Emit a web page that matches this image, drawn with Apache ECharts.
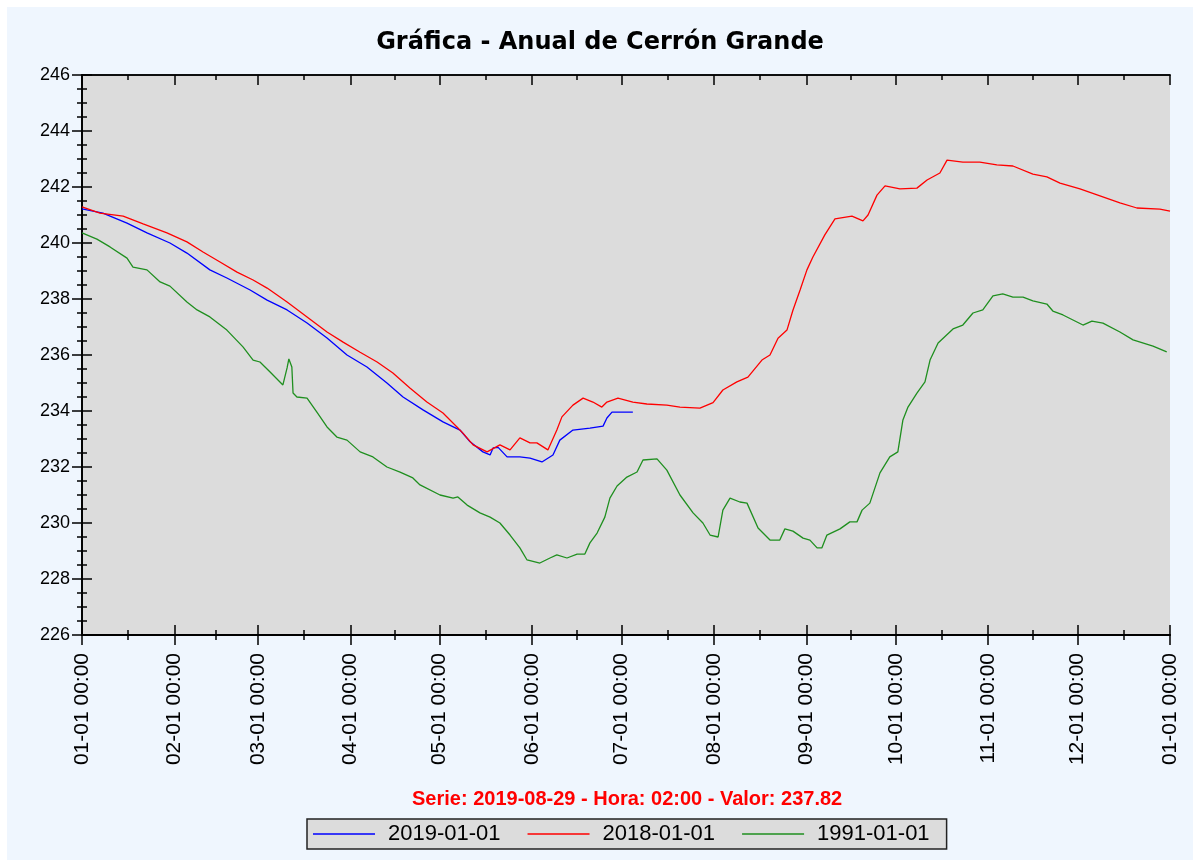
<!DOCTYPE html>
<html>
<head>
<meta charset="utf-8">
<script src="https://cdn.jsdelivr.net/npm/echarts@6/dist/echarts.min.js"></script>
<style>
  html, body { margin: 0; padding: 0; background: #ffffff; }
  #grafica { position: absolute; left: 7px; top: 7px; width: 1186px; height: 853px; background: #eff6fe; }
</style>
</head>
<body>
<div id="grafica"></div>
<script>
// dia del año (0 = 01-01) y nivel en msnm
var serie2019 = [[0,241.22],[7,241.07],[15.1,240.71],[21.8,240.36],[29.5,240.0],[35.2,239.64],[42.9,239.04],[48.6,238.75],
  [56.4,238.32],[62.1,237.96],[68.8,237.61],[75.5,237.14],[82.2,236.61],[88.9,236.0],[95.6,235.57],[102.3,235.0],
  [107.7,234.5],[114.4,234.04],[121.1,233.61],[126.8,233.32],[130.2,232.9],[134.5,232.54],[136.9,232.43],[137.9,232.68],
  [139.6,232.7],[142.6,232.36],[146.9,232.36],[150.3,232.32],[154.3,232.18],[158.0,232.43],[160.3,232.96],[164.7,233.32],
  [170.4,233.39],[174.8,233.46],[176.1,233.75],[177.8,233.96],[184.8,233.96]];

var serie2018 = [[0,241.29],[6,241.07],[13.8,240.96],[20.5,240.68],[28.5,240.36],[35.2,240.04],[40.6,239.68],[46.3,239.32],
  [52.0,238.96],[57.4,238.68],[62.1,238.39],[68.8,237.89],[75.5,237.36],[82.2,236.82],[87.6,236.46],[93.3,236.1],
  [99.0,235.75],[104.3,235.36],[110.0,234.82],[115.7,234.32],[121.1,233.93],[125.8,233.43],[127.8,233.21],[131.2,232.79],
  [135.9,232.54],[140.2,232.79],[143.6,232.61],[146.9,233.04],[150.3,232.86],[152.6,232.86],[156.3,232.61],[159.3,233.32],
  [161.0,233.79],[164.7,234.21],[168.1,234.46],[171.4,234.32],[174.4,234.14],[176.1,234.32],[179.8,234.46],[184.8,234.32],
  [189.5,234.25],[196.2,234.21],[200.6,234.14],[207.3,234.1],[211.7,234.3],[215.0,234.75],[219.7,235.04],[223.4,235.21],
  [228.1,235.82],[230.8,236.0],[233.5,236.6],[236.5,236.89],[238.5,237.6],[240.9,238.32],[243.2,239.04],[245.2,239.5],
  [249.2,240.29],[252.6,240.86],[258.3,240.96],[262.0,240.79],[263.7,241.0],[266.7,241.71],[269.4,242.04],[274.4,241.93],
  [280.1,241.96],[283.5,242.25],[287.8,242.5],[290.2,242.96],[295.5,242.89],[301.2,242.89],[306.9,242.79],[312.3,242.75],
  [319.0,242.46],[323.7,242.36],[328.1,242.14],[334.8,241.93],[341.5,241.68],[348.2,241.43],[353.9,241.25],[361.6,241.21],
  [365,241.14]];

var serie1991 = [[0,240.36],[5.0,240.14],[9.4,239.86],[15.1,239.46],[17.1,239.14],[21.8,239.04],[26.2,238.61],[29.5,238.46],
  [35.2,237.89],[38.6,237.61],[42.9,237.36],[48.6,236.89],[54.0,236.29],[57.4,235.82],[59.7,235.75],[63.1,235.39],
  [67.4,234.93],[68.8,235.54],[69.4,235.86],[70.4,235.57],[70.8,234.64],[72.1,234.5],[75.5,234.46],[78.8,233.96],
  [82.2,233.43],[85.5,233.07],[88.9,232.96],[93.3,232.54],[97.6,232.36],[102.3,232.0],[106.7,231.82],[111.0,231.61],
  [113.4,231.36],[120.1,231.0],[124.5,230.89],[126.1,230.93],[129.2,230.64],[133.5,230.36],[136.9,230.21],[140.2,230.0],
  [143.6,229.57],[146.9,229.11],[149.3,228.68],[153.6,228.57],[157.0,228.75],[159.3,228.86],[162.7,228.75],[166.1,228.89],
  [168.7,228.89],[170.4,229.29],[172.8,229.64],[175.4,230.21],[177.1,230.89],[179.5,231.32],[182.8,231.64],[186.2,231.82],
  [188.2,232.25],[192.9,232.29],[196.2,231.89],[200.6,231.0],[205.0,230.36],[208.3,230.0],[210.7,229.57],[213.4,229.5],
  [215.0,230.46],[217.4,230.89],[220.7,230.75],[223.1,230.71],[226.8,229.82],[230.8,229.39],[234.1,229.39],[235.8,229.79],
  [238.5,229.71],[241.9,229.46],[244.2,229.39],[246.6,229.11],[248.2,229.11],[249.9,229.57],[254.3,229.79],[257.6,230.04],
  [260.0,230.04],[261.7,230.46],[264.3,230.71],[267.7,231.79],[271.0,232.36],[273.7,232.54],[275.4,233.68],[277.1,234.14],
  [280.1,234.64],[282.8,235.04],[284.5,235.82],[287.2,236.43],[292.2,236.93],[295.5,237.07],[298.9,237.5],[302.2,237.61],
  [305.6,238.11],[308.9,238.18],[312.3,238.07],[315.7,238.07],[319.0,237.93],[323.7,237.82],[325.7,237.57],[329.1,237.43],
  [335.8,237.07],[338.8,237.21],[342.5,237.14],[348.2,236.82],[352.6,236.54],[359.3,236.32],[363.9,236.11]];

var nombres = ['2019-01-01', '2018-01-01', '1991-01-01'];
var colores = ['#0000ff', '#ff0000', '#1f8f1f'];

// inicio de cada mes (dia del año) y su etiqueta
var iniciosMes = [0, 31, 59, 90, 120, 151, 181, 212, 243, 273, 304, 334, 365];
var etiquetasMes = ['01-01 00:00','02-01 00:00','03-01 00:00','04-01 00:00','05-01 00:00','06-01 00:00',
  '07-01 00:00','08-01 00:00','09-01 00:00','10-01 00:00','11-01 00:00','12-01 00:00','01-01 00:00'];

var textoSerie = 'Serie: 2019-08-29 - Hora: 02:00 - Valor: 237.82';

var mitadMes = [];
for (var i = 0; i < iniciosMes.length - 1; i++) {
    mitadMes.push((iniciosMes[i] + iniciosMes[i + 1]) / 2);
}

var mychart = echarts.init(document.getElementById('grafica'));

var linea = { show: true, lineStyle: { color: '#000', width: 1.5 } };
var fuente = 'Liberation Sans, Arial, sans-serif';

// eje x: varias copias para marcas mayores/menores dentro y fuera
function ejeX(pos, valores, largo, adentro, etiquetas) {
    return {
        type: 'value', min: 0, max: 365, position: pos,
        axisLine: linea,
        splitLine: { show: false },
        axisTick: { show: true, inside: adentro, length: largo, customValues: valores,
                    lineStyle: { color: '#000', width: 1.5 } },
        axisLabel: etiquetas ? {
            show: true, rotate: 90, margin: 18, customValues: iniciosMes,
            color: '#000', fontFamily: fuente, fontSize: 21,
            formatter: function (v) { return etiquetasMes[iniciosMes.indexOf(v)]; }
        } : { show: false }
    };
}

function ejeY(pos, adentro, etiquetas, conMayor) {
    return {
        type: 'value', min: 226, max: 246, interval: 2, position: pos,
        axisLine: linea,
        splitLine: { show: false },
        axisTick: { show: conMayor, inside: adentro, length: 10, lineStyle: { color: '#000', width: 1.5 } },
        minorTick: { show: true, splitNumber: 4, length: 5, lineStyle: { color: '#000', width: 1.5 } },
        axisLabel: etiquetas ? { show: true, margin: 12, color: '#000', fontFamily: fuente, fontSize: 18 } : { show: false }
    };
}

var series = [serie2019, serie2018, serie1991].map(function (d, k) {
    return {
        name: nombres[k],
        type: 'line',
        xAxisIndex: 0,
        yAxisIndex: 0,
        data: d,
        showSymbol: false,
        symbol: 'none',
        lineStyle: { color: colores[k], width: 1.3 },
        itemStyle: { color: colores[k] },
        z: 5
    };
});

var option = {
    animation: false,
    title: [
        { text: 'Gráfica - Anual de Cerrón Grande', left: 'center', top: 19,
          textStyle: { fontFamily: 'DejaVu Sans, Liberation Sans, sans-serif', fontSize: 24, fontWeight: 'bold', color: '#000' } },
        { text: textoSerie, left: 400, top: 777,
          textStyle: { fontFamily: fuente, fontSize: 20, fontWeight: 'bold', color: '#ff0000' } }
    ],
    grid: { left: 75, right: 23, top: 68, bottom: 225, show: true, backgroundColor: '#dcdcdc', borderWidth: 0 },
    legend: {
        data: nombres,
        left: 300, top: 812,
        orient: 'horizontal',
        backgroundColor: '#dcdcdc',
        borderColor: '#222', borderWidth: 1.5,
        padding: [4, 17, 4, 6],
        itemWidth: 62, itemHeight: 1.5, itemGap: 27,
        icon: 'rect',
        textStyle: { fontFamily: fuente, fontSize: 22, color: '#000', padding: [0, 0, 0, 8] }
    },
    xAxis: [
        ejeX('bottom', iniciosMes, 10, false, true),
        ejeX('bottom', iniciosMes, 10, true, false),
        ejeX('bottom', mitadMes, 5, false, false),
        ejeX('bottom', mitadMes, 5, true, false),
        ejeX('top', iniciosMes, 10, true, false),
        ejeX('top', mitadMes, 5, true, false)
    ],
    yAxis: [
        ejeY('left', false, true, true),
        ejeY('left', true, false, true),
        ejeY('right', true, false, true)
    ],
    series: series
};

if (option && typeof option === 'object') {
    mychart.setOption(option, true);
}
</script>
</body>
</html>
